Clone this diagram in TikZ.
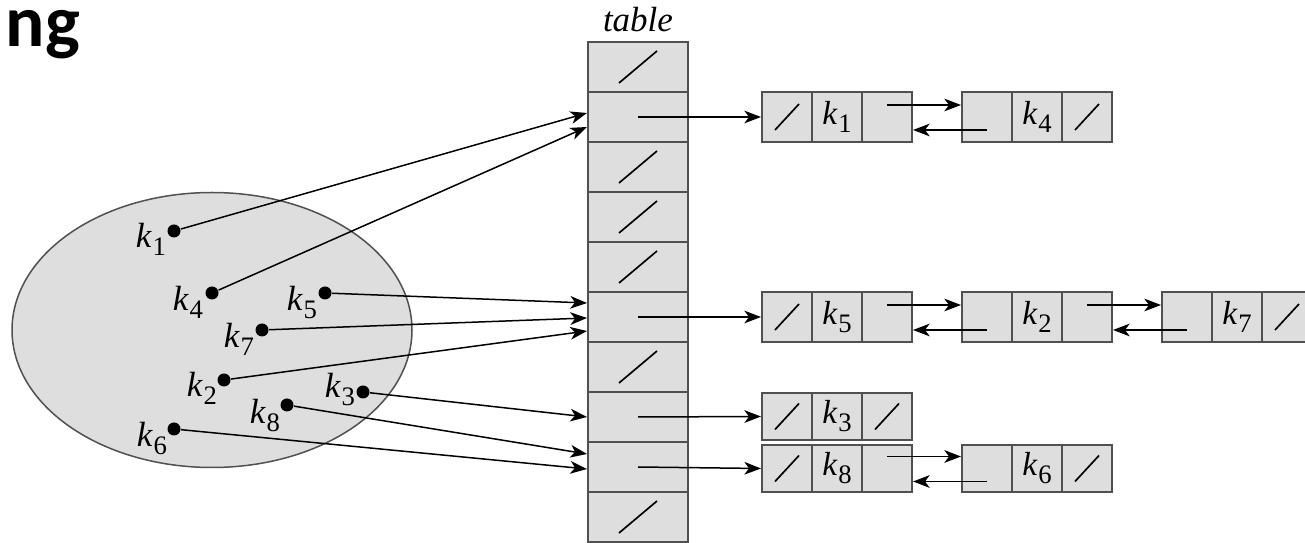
\documentclass[tikz,border=0pt]{standalone}
\usepackage{fontspec}
\setmainfont{Liberation Serif}
\newfontfamily\headfont{Carlito}
\usetikzlibrary{arrows.meta}
\definecolor{cellfill}{HTML}{DEDEDE}
\definecolor{cellline}{HTML}{505050}
% key with subscript, e.g. \kkey{1} -> k_1
\newcommand\kkey[1]{\textit{k}\kern0.2pt\raisebox{-2.4pt}{\fontsize{8}{8}\selectfont #1}}
% one element of a doubly linked list: prev | key | next
\newcommand\lnode[5]{%
  \node[lcell=#4] (#1a) at (#2,#3) {};
  \node[lcell=#4] (#1b) at (#2+50,#3) {\kkey{#5}};
  \node[lcell=#4] (#1c) at (#2+100,#3) {};
}
% NIL slash inside a list cell
\newcommand\nilcell[1]{\draw[nilmark] ([shift={(-12,13)}]#1.center) -- ([shift={(12,-13)}]#1.center);}
\begin{document}
\begin{tikzpicture}[x=0.3pt,y=-0.3pt,
  tcell/.style={draw=cellline,fill=cellfill,line width=0.6pt,minimum width=30pt,minimum height=15pt,inner sep=0pt},
  lcell/.style={draw=cellline,fill=cellfill,line width=0.6pt,minimum width=15pt,minimum height=#1,inner sep=0pt},
  ptr/.style={line width=0.45pt,-{Stealth[length=5pt,width=3.8pt,inset=1.4pt]}},
  nilmark/.style={line width=0.5pt},
  dot/.style={circle,fill=black,inner sep=0pt,minimum size=3.9pt},
  klabel/.style={inner sep=0pt,font=\fontsize{10.5}{12}\selectfont}]
\clip (0,0) rectangle (1305,543);

% heading fragment
\node[anchor=base west,inner sep=0pt,font=\headfont\bfseries\fontsize{22}{22}\selectfont] (head) at (5,47) {ng};

% universe of keys
\draw[draw=cellline,fill=cellfill,line width=0.45pt] (212,330) ellipse [x radius=60pt,y radius=41.25pt];

% hash table
\node[font=\itshape\fontsize{10.5}{12}\selectfont] (tablelabel) at (638,20) {table};
\foreach \i in {0,...,9}{
  \node[tcell] (t\i) at (638,{67+50*\i}) {};
}
\foreach \i in {0,2,3,4,6,9}{
  \draw[nilmark] ([shift={(-19,16)}]t\i.center) -- ([shift={(19,-16)}]t\i.center);
}

% chains
\lnode{ka}{787}{117}{15pt}{1}
\lnode{kd}{987}{117}{15pt}{4}
\lnode{ke}{787}{317}{15pt}{5}
\lnode{kb}{987}{317}{15pt}{2}
\lnode{kg}{1187}{317}{15pt}{7}
\lnode{kc}{787}{416.5}{14.1pt}{3}
\lnode{kh}{787}{468.5}{14.1pt}{8}
\lnode{kf}{987}{468.5}{14.1pt}{6}
\nilcell{kaa}\nilcell{kdc}
\nilcell{kea}\nilcell{kgc}
\nilcell{kca}\nilcell{kcc}
\nilcell{kha}\nilcell{kfc}

% table slots to chain heads
\draw[ptr] (t1.center) -- (kaa.west);
\draw[ptr] (t5.center) -- (kea.west);
\draw[ptr] (t7.center) -- (kca.west);
\draw[ptr] (t8.center) -- (kha.west);

% next / prev links
\foreach \p/\q in {ka/kd,ke/kb,kb/kg,kh/kf}{
  \draw[ptr] ([shift={(0,-12)}]\p c.center) -- ([shift={(0,-12)}]\q a.west);
  \draw[ptr] ([shift={(0,13)}]\q a.center) -- ([shift={(0,13)}]\p c.east);
}

% keys in the universe
\node[dot] (d1) at (174,231) {};
\node[dot] (d4) at (212,293) {};
\node[dot] (d5) at (325,293) {};
\node[dot] (d7) at (262,330) {};
\node[dot] (d2) at (224,380) {};
\node[dot] (d3) at (363,392) {};
\node[dot] (d8) at (287,405) {};
\node[dot] (d6) at (174,429) {};
\node[klabel] (l1) at (151,239) {\kkey{1}};
\node[klabel] (l4) at (188,302) {\kkey{4}};
\node[klabel] (l5) at (302,302) {\kkey{5}};
\node[klabel] (l7) at (239,339) {\kkey{7}};
\node[klabel] (l2) at (202,388) {\kkey{2}};
\node[klabel] (l3) at (340,389) {\kkey{3}};
\node[klabel] (l8) at (265,415) {\kkey{8}};
\node[klabel] (l6) at (152,438) {\kkey{6}};

% hashing of keys to slots
\draw[ptr] (d1) -- ([shift={(0,-4)}]t1.west);
\draw[ptr] (d4) -- ([shift={(0,10)}]t1.west);
\draw[ptr] (d5) -- ([shift={(0,-14)}]t5.west);
\draw[ptr] (d7) -- ([shift={(0,1)}]t5.west);
\draw[ptr] (d2) -- ([shift={(0,14)}]t5.west);
\draw[ptr] (d3) -- (t7.west);
\draw[ptr] (d8) -- ([shift={(0,-13)}]t8.west);
\draw[ptr] (d6) -- ([shift={(0,2)}]t8.west);
\end{tikzpicture}
\end{document}
